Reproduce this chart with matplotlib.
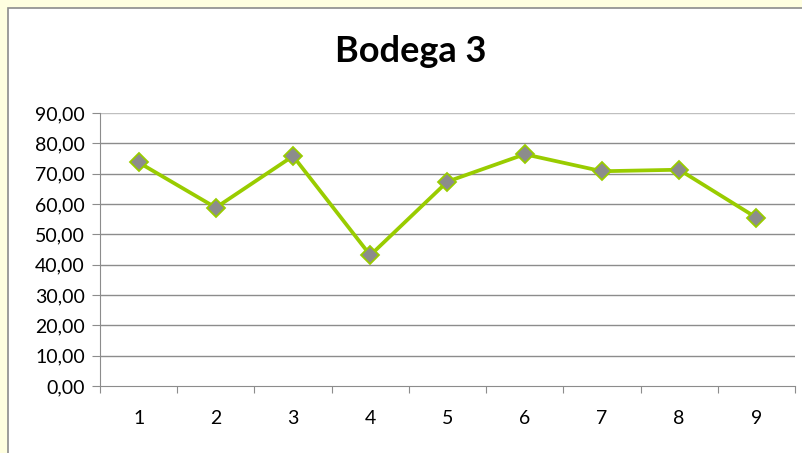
import matplotlib
matplotlib.use('Agg')
import matplotlib.pyplot as plt
from matplotlib.patches import Rectangle
from matplotlib.ticker import FixedLocator, NullFormatter

categorias = ['1', '2', '3', '4', '5', '6', '7', '8', '9']
valores = [73.7, 58.8, 75.8, 43.1, 67.4, 76.4, 70.8, 71.3, 55.5]
ticks_y = [0, 10, 20, 30, 40, 50, 60, 70, 80, 90]

plt.rcParams['font.family'] = ['Lato', 'DejaVu Sans']

fig = plt.figure(figsize=(8.03, 4.53), dpi=100)
fig.patch.set_facecolor('#ffffe0')
fig.patches.append(Rectangle((8 / 803, -0.05), 1.0, 1.05 - 8 / 453, transform=fig.transFigure,
                             facecolor='white', edgecolor='#8c8c8c', linewidth=1.2, zorder=-5))

ax = fig.add_axes([100 / 803, 1 - 386 / 453, 695 / 803, 273 / 453])
ax.set_zorder(2)
ax.set_facecolor('white')

x = list(range(len(categorias)))
ax.plot(x, valores, color='#99cc00', linewidth=2.7, marker='D', markersize=9.5,
        markerfacecolor='#8c8c8c', markeredgecolor='#99cc00', markeredgewidth=1.3, zorder=3)

ax.set_xlim(-0.5, len(categorias) - 0.5)
ax.set_ylim(0, 90)
ax.set_yticks(ticks_y)
ax.set_yticklabels([f'{v:.2f}'.replace('.', ',') for v in ticks_y])
ax.xaxis.set_major_locator(FixedLocator([i - 0.5 for i in range(len(categorias) + 1)]))
ax.xaxis.set_major_formatter(NullFormatter())
ax.xaxis.set_minor_locator(FixedLocator(x))
ax.set_xticklabels(categorias, minor=True)
ax.tick_params(axis='x', which='minor', length=0, pad=17, labelsize=14)
ax.tick_params(axis='x', which='major', length=5, color='#8c8c8c', direction='out')
ax.tick_params(axis='y', length=6, color='#8c8c8c', direction='out', labelsize=14, pad=5)

for v in ticks_y[1:]:
    ax.axhline(v, color='#bfbfbf' if v == 90 else '#8c8c8c', linewidth=1, zorder=1)

for lado in ['top', 'right']:
    ax.spines[lado].set_visible(False)
ax.spines['left'].set_color('#8c8c8c')
ax.spines['bottom'].set_color('#8c8c8c')

fig.text(411 / 803, 1 - 51 / 453, 'Bodega 3', ha='center', va='center',
         fontsize=26, fontweight='bold', zorder=3)

fig.savefig('out.png', dpi=100, facecolor=fig.get_facecolor())
